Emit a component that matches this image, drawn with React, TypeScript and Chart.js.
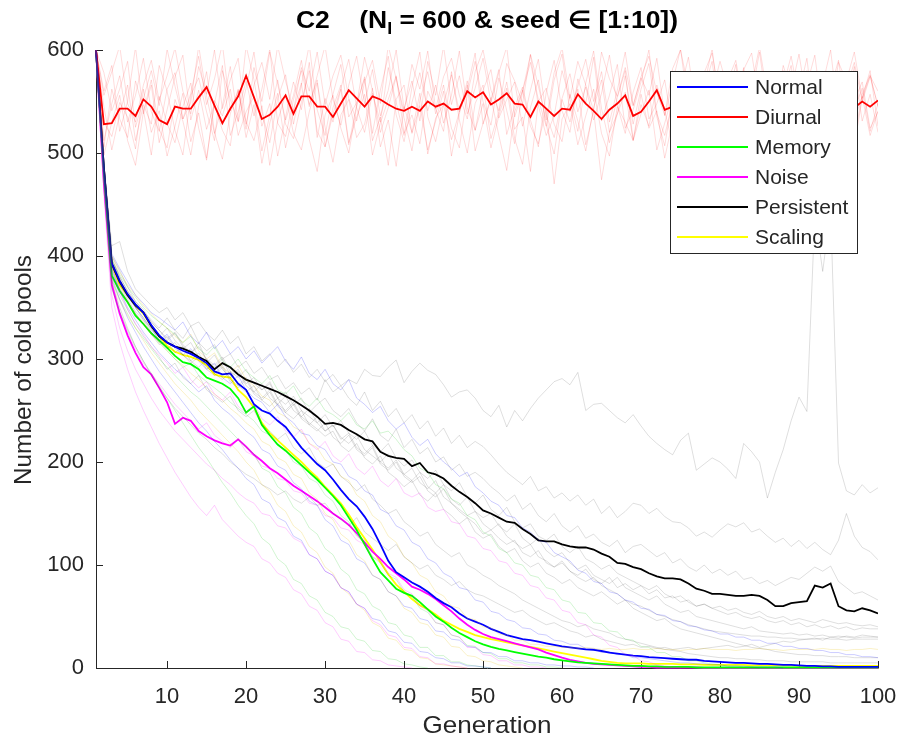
import React, { useEffect, useRef } from 'react';
import { Chart, registerables } from 'chart.js';

Chart.register(...registerables);

const FONT = '"Liberation Sans", Arial, Helvetica, sans-serif';
const INK = '#262626';

const xTicks = [10, 20, 30, 40, 50, 60, 70, 80, 90, 100];
const yTicks = [0, 100, 200, 300, 400, 500, 600];

const legendNames = ['Normal', 'Diurnal', 'Memory', 'Noise', 'Persistent', 'Scaling'];
const legendColors = ['#0000ff', '#ff0000', '#00ff00', '#ff00ff', '#000000', '#ffff00'];

// Mean number of cold pools per generation (generation 1..100)
const normalMean = [
  600, 485, 393, 376, 363, 353, 345, 333, 323, 316,
  312, 308, 305, 301, 296, 288, 285, 286, 276, 270,
  256, 250, 247, 240, 234, 224, 214, 206, 198, 192,
  183, 173, 164, 157, 147, 135, 120, 104, 93, 88,
  83, 79, 74, 68, 63, 59, 53, 48, 45, 42,
  38, 35, 32, 30, 28, 27, 25.5, 24, 22.5, 21,
  20, 19, 18, 17.5, 16.5, 15, 14, 13, 12, 11.5,
  10.5, 10, 9.5, 9, 8.5, 8, 8, 7, 6.5, 6,
  5.5, 5, 5, 4.5, 4, 4, 3.5, 3, 3, 2.5,
  2, 2, 1.5, 1.5, 1, 1, 1, 1, 1, 1,
];
const diurnalMean = [
  600, 528, 529, 543, 543, 536, 552, 545, 532, 528,
  545, 543, 543, 554, 564, 546, 529, 543, 555, 575,
  554, 533, 537, 545, 556, 538, 555, 555, 545, 545,
  535, 548, 561, 553, 545, 555, 552, 547, 543, 541,
  545, 541, 550, 545, 548, 542, 543, 560, 554, 559,
  547, 552, 558, 548, 547, 535, 550, 543, 536, 543,
  542, 557, 548, 541, 533, 542, 548, 556, 536, 540,
  550, 561, 542, 545, 552, 538, 547, 556, 541, 549,
  544, 553, 537, 546, 558, 543, 550, 539, 547, 555,
  541, 548, 552, 536, 545, 553, 544, 550, 545, 551,
];
const memoryMean = [
  600, 480, 381, 366, 355, 342, 334, 325, 318, 311,
  303, 297, 295, 290, 282, 279, 276, 271, 262, 248,
  254, 236, 226, 217, 211, 204, 197, 190, 183, 175,
  167, 158, 146, 134, 120, 106, 93, 85, 77, 73,
  70, 64, 57, 50, 45, 39, 34, 30, 26, 23,
  20.5, 18.5, 17, 15.5, 14, 12.5, 11, 10, 8.5, 7.5,
  6.5, 5.5, 5, 4.5, 4, 3.5, 3, 2.5, 2, 2,
  1.5, 1.5, 1, 1, 1, 1, 0.5, 0.5, 0.5, 0.5,
  0.5, 0.5, 0.5, 0.5, 0.5, 0.5, 0.5, 0.5, 0.5, 0.5,
  0.5, 0.5, 0.5, 0.5, 0.5, 0.5, 0.5, 0.5, 0.5, 0.5,
];
const noiseMean = [
  600, 470, 372, 344, 323, 306, 292, 285, 272, 258,
  237, 243, 240, 230, 225, 221, 218, 216, 222, 215,
  207, 201, 194, 189, 183, 177, 172, 167, 162, 156,
  150, 145, 139, 131, 122, 113, 106, 98, 92, 86,
  79, 76, 72, 67, 61, 55, 48, 42, 37, 33,
  30, 28, 26, 24, 22, 20, 18, 15, 12.5, 10,
  8, 6.5, 5, 4, 3.5, 3, 2.5, 2, 1.5, 1,
  1, 0.5, 0.5, 0.5, 0.5, 0.5, 0.5, 0, 0, 0,
  0, 0, 0, 0, 0, 0, 0, 0, 0, 0,
  0, 0, 0, 0, 0, 0, 0, 0, 0, 0,
];
const persistentMean = [
  600, 485, 392, 375, 362, 352, 345, 332, 322, 316,
  312, 310, 307, 302, 298, 290, 296, 292, 285, 280,
  277, 274, 271, 268, 264, 260, 255, 250, 244, 237,
  238, 236, 231, 227, 222, 220, 210, 206, 204, 203,
  196, 199, 190, 188, 184, 177, 171, 166, 160, 153,
  150, 146, 142, 141, 135, 130, 124, 123, 123, 120,
  118, 117, 117, 115, 111, 108, 102, 101, 98, 96,
  92, 89, 87, 87, 86, 82, 77, 75, 72, 72,
  71, 70, 70, 71, 70, 66, 60, 60, 63, 64,
  65, 80, 78, 82, 60, 56, 55, 58, 56, 53,
];
const scalingMean = [
  600, 485, 392, 372, 362, 352, 344, 332, 322, 313,
  307, 304, 302, 299, 294, 285, 283, 282, 270, 263,
  253, 238, 228, 221, 214, 207, 200, 192, 185, 176,
  168, 160, 149, 137, 126, 115, 103, 91, 81, 74,
  67, 61, 57, 52, 46, 42, 38, 35, 32, 30,
  28, 26.5, 25, 23.5, 22, 20.5, 19, 17.5, 16, 14.5,
  13, 11.5, 10, 8.5, 7, 6, 5, 4.5, 4.5, 4.5,
  4, 4, 4, 4, 3.5, 3.5, 3.5, 3, 3, 3,
  3, 3, 3, 2.5, 2.5, 2.5, 2.5, 2.5, 2.5, 2,
  2, 2, 2, 2, 2, 2, 2, 2, 2, 2,
];

// Individual seeds
const normalSeeds = [
  [600, 490, 402, 388, 375, 362, 354, 345, 340, 334, 328, 336, 322, 315, 326, 310, 318, 305, 312, 300,
    308, 296, 304, 312, 298, 290, 302, 286, 280, 290, 276, 270, 280, 262, 256, 248, 254, 240, 232, 238,
    224, 216, 222, 208, 200, 194, 186, 190, 176, 170, 162, 158, 148, 146, 136, 132, 124, 122, 112, 108,
    104, 95, 92, 84, 82, 74, 72, 66, 64, 58, 57, 52, 51, 46, 45, 41, 40, 37, 36, 33,
    33, 30, 30, 27, 27, 24, 24, 21, 21, 19, 19, 17, 17, 15, 15, 13, 13, 11, 11, 10],
  [600, 484, 392, 374, 360, 350, 340, 330, 318, 324, 312, 304, 310, 298, 290, 296, 282, 276, 284, 270,
    262, 258, 248, 256, 244, 238, 228, 226, 216, 212, 200, 198, 186, 182, 172, 168, 154, 150, 138, 134,
    122, 118, 106, 102, 92, 88, 78, 76, 66, 64, 55, 53, 47, 45, 39, 38, 33, 32, 27, 26,
    23, 23, 19, 19, 15, 16, 13, 13, 10, 10, 9, 8, 7, 6, 5, 5, 4, 4, 3, 3, 2, 2, 2, 1, 1, 1, 1, 0],
  [600, 480, 386, 366, 350, 338, 326, 316, 306, 298, 290, 284, 276, 268, 274, 260, 252, 246, 238, 230,
    224, 212, 208, 196, 192, 180, 174, 162, 158, 144, 138, 124, 120, 106, 102, 90, 86, 74, 70, 60,
    58, 48, 46, 36, 35, 28, 27, 21, 20, 15, 15, 11, 11, 7, 7, 5, 5, 3, 3, 2, 2, 1, 1, 0],
  [600, 476, 380, 358, 340, 326, 312, 300, 288, 278, 268, 258, 248, 238, 230, 220, 212, 202, 194, 184,
    178, 164, 160, 146, 142, 128, 124, 110, 106, 94, 90, 78, 74, 62, 58, 48, 46, 36, 34, 25,
    24, 16, 15, 10, 9, 5, 5, 2, 2, 1, 0],
];
const diurnalSeeds = [
  [600, 512, 548, 575, 530, 556, 592, 540, 521, 562, 578, 533, 549, 604, 555, 519, 546, 584, 530, 563,
    598, 540, 510, 553, 576, 528, 566, 605, 542, 517, 557, 586, 535, 549, 572, 519, 561, 594, 537, 511,
    549, 578, 541, 566, 529, 556, 599, 544, 522, 561, 581, 534, 552, 569, 526, 561, 591, 537, 515, 553,
    577, 540, 564, 532, 558, 595, 546, 519, 559, 583, 533, 548, 571, 524, 561, 593, 540, 513, 554, 579,
    536, 567, 530, 556, 598, 543, 520, 560, 585, 531, 550, 573, 527, 563, 590, 538, 514, 557, 576, 545],
  [600, 545, 503, 538, 566, 512, 547, 528, 585, 560, 522, 498, 556, 573, 540, 512, 580, 552, 531, 604,
    571, 526, 548, 497, 535, 569, 542, 588, 515, 553, 530, 562, 508, 547, 593, 561, 520, 544, 574, 534,
    502, 551, 579, 538, 566, 524, 505, 557, 589, 550, 527, 573, 541, 509, 560, 595, 546, 517, 536, 580,
    552, 521, 568, 599, 543, 510, 538, 575, 528, 562, 587, 535, 507, 554, 579, 548, 521, 566, 601, 540,
    515, 548, 583, 530, 562, 505, 545, 576, 538, 559, 592, 526, 551, 508, 569, 543, 584, 531, 557, 520],
  [600, 560, 585, 521, 550, 603, 538, 566, 510, 542, 574, 595, 532, 561, 523, 548, 585, 517, 540, 570,
    536, 562, 601, 529, 516, 552, 580, 547, 571, 506, 538, 563, 591, 544, 520, 558, 530, 583, 549, 517,
    564, 598, 535, 511, 547, 576, 540, 562, 597, 528, 552, 581, 518, 545, 564, 532, 506, 559, 590, 541,
    520, 572, 548, 593, 531, 556, 586, 524, 542, 569, 600, 538, 517, 550, 578, 545, 510, 563, 589, 534,
    553, 586, 523, 548, 569, 512, 544, 580, 557, 530, 566, 595, 536, 514, 552, 578, 542, 563, 521, 548],
  [600, 498, 530, 556, 512, 488, 540, 571, 523, 505, 552, 531, 498, 546, 579, 520, 494, 538, 562, 515,
    547, 490, 529, 558, 505, 541, 568, 513, 482, 537, 556, 524, 500, 545, 574, 512, 535, 488, 552, 566,
    519, 546, 503, 531, 560, 497, 538, 570, 522, 548, 505, 536, 563, 514, 489, 544, 571, 527, 499, 552,
    530, 562, 508, 541, 474, 520, 554, 580, 512, 538, 561, 503, 529, 557, 518, 491, 545, 569, 523, 508,
    547, 575, 514, 482, 536, 558, 527, 550, 505, 539, 566, 520, 496, 544, 571, 531, 507, 553, 580, 526],
  [600, 556, 579, 604, 548, 530, 566, 590, 551, 575, 602, 560, 538, 584, 557, 600, 543, 571, 592, 528,
    566, 588, 552, 604, 570, 541, 583, 560, 598, 547, 575, 595, 553, 531, 569, 590, 548, 604, 572, 540,
    586, 562, 599, 543, 574, 592, 556, 533, 579, 600, 561, 541, 587, 570, 548, 596, 565, 532, 578, 602,
    553, 589, 566, 541, 598, 572, 555, 583, 546, 574, 594, 558, 537, 582, 600, 563, 546, 578, 597, 552,
    571, 590, 544, 566, 603, 556, 538, 585, 561, 596, 549, 579, 560, 541, 588, 570, 598, 553, 575, 560],
  [600, 530, 516, 549, 535, 504, 562, 520, 541, 497, 526, 558, 511, 539, 495, 548, 522, 507, 561, 530,
    512, 546, 488, 531, 557, 519, 503, 540, 568, 525, 491, 537, 552, 515, 528, 563, 506, 532, 487, 545,
    520, 558, 499, 534, 547, 513, 540, 566, 502, 529, 554, 517, 483, 540, 561, 526, 509, 543, 470, 533,
    548, 508, 536, 562, 519, 497, 545, 530, 512, 557, 524, 541, 495, 531, 559, 514, 538, 505, 549, 527,
    510, 543, 566, 522, 490, 537, 553, 518, 544, 528, 502, 536, 559, 521, 547, 508, 532, 555, 517, 541],
  [600, 578, 541, 562, 589, 525, 553, 580, 546, 601, 565, 533, 558, 594, 547, 572, 606, 541, 560, 523,
    583, 550, 598, 567, 532, 556, 590, 545, 575, 604, 552, 527, 566, 594, 548, 581, 536, 561, 600, 543,
    570, 531, 589, 556, 604, 547, 575, 538, 563, 592, 549, 578, 603, 535, 560, 588, 552, 526, 571, 596,
    540, 565, 591, 550, 579, 530, 561, 598, 546, 573, 556, 592, 536, 569, 601, 544, 577, 533, 559, 589,
    562, 538, 581, 597, 548, 572, 530, 565, 594, 553, 580, 541, 567, 600, 535, 563, 588, 550, 574, 546],
  [600, 506, 562, 533, 515, 570, 542, 498, 555, 529, 510, 545, 568, 524, 493, 551, 536, 562, 517, 540,
    555, 502, 537, 571, 528, 514, 549, 580, 521, 506, 544, 566, 510, 535, 557, 498, 529, 552, 575, 519,
    537, 509, 560, 543, 521, 579, 532, 500, 548, 566, 514, 540, 569, 523, 535, 482, 550, 563, 528, 511,
    557, 531, 502, 544, 571, 520, 538, 559, 513, 547, 526, 566, 541, 508, 550, 574, 519, 535, 561, 530,
    496, 544, 567, 523, 539, 510, 553, 572, 531, 545, 518, 548, 528, 562, 537, 506, 551, 569, 524, 540],
];
const memorySeeds = [
  [600, 488, 396, 382, 370, 360, 350, 342, 336, 330, 324, 316, 322, 310, 304, 312, 298, 292, 300, 288,
    282, 276, 284, 270, 266, 274, 260, 254, 262, 250, 246, 240, 248, 236, 232, 240, 228, 230, 222, 212,
    206, 194, 190, 178, 174, 164, 160, 148, 144, 132, 128, 116, 112, 102, 100, 90, 88, 78, 76, 66,
    64, 54, 53, 44, 43, 36, 35, 28, 27, 21, 20, 15, 15, 11, 11, 7, 7, 5, 4, 3, 2, 2, 1, 1, 0],
  [600, 480, 384, 368, 356, 344, 334, 326, 316, 308, 300, 292, 296, 284, 278, 272, 266, 258, 252, 246,
    240, 230, 226, 216, 212, 200, 196, 184, 180, 168, 162, 148, 142, 128, 122, 108, 102, 90, 86, 74,
    70, 58, 54, 44, 42, 32, 30, 22, 21, 15, 14, 9, 9, 5, 5, 3, 3, 1, 1, 0],
  [600, 476, 376, 358, 344, 330, 320, 310, 300, 292, 284, 276, 268, 262, 254, 246, 238, 230, 222, 214,
    208, 194, 190, 176, 170, 156, 150, 136, 130, 116, 110, 96, 90, 76, 72, 60, 56, 44, 42, 32,
    30, 20, 20, 12, 12, 6, 6, 3, 2, 1, 0],
  [600, 470, 368, 346, 328, 312, 298, 286, 274, 262, 250, 238, 226, 214, 204, 192, 180, 170, 158, 148,
    140, 126, 120, 106, 100, 86, 82, 70, 66, 54, 50, 40, 38, 28, 26, 17, 16, 9, 8, 4, 3, 1, 0],
];
const noiseSeeds = [
  [600, 482, 390, 366, 348, 334, 324, 312, 304, 296, 286, 292, 280, 272, 278, 266, 260, 268, 254, 248,
    256, 242, 236, 244, 230, 224, 232, 218, 212, 220, 206, 200, 208, 194, 188, 196, 182, 176, 184, 170,
    166, 170, 156, 152, 154, 142, 140, 128, 126, 116, 114, 104, 102, 92, 90, 80, 78, 68, 66, 56,
    54, 44, 42, 32, 30, 22, 20, 13, 12, 7, 6, 3, 2, 1, 0],
  [600, 472, 374, 346, 326, 310, 296, 286, 276, 266, 256, 248, 240, 232, 238, 226, 220, 214, 222, 210,
    206, 196, 194, 184, 182, 172, 170, 160, 158, 148, 146, 136, 134, 124, 120, 108, 104, 92, 88, 76,
    72, 60, 56, 44, 42, 32, 30, 20, 20, 13, 12, 7, 7, 3, 3, 1, 1, 0],
  [600, 466, 362, 330, 308, 290, 276, 262, 250, 240, 230, 222, 214, 206, 198, 192, 184, 178, 170, 164,
    160, 150, 148, 138, 136, 126, 122, 110, 106, 94, 90, 78, 74, 62, 58, 46, 42, 32, 30, 20,
    19, 11, 10, 4, 4, 2, 1, 0],
  [600, 460, 350, 316, 290, 268, 250, 234, 218, 204, 190, 178, 166, 156, 148, 158, 144, 136, 128, 122,
    118, 106, 102, 92, 88, 76, 72, 60, 56, 44, 40, 28, 26, 16, 15, 8, 7, 3, 2, 1, 0],
];
const persistentSeeds = [
  [600, 490, 410, 414, 385, 368, 360, 352, 345, 350, 338, 345, 332, 336, 325, 318, 328, 315, 322, 305,
    312, 298, 305, 292, 300, 287, 295, 282, 290, 278, 285, 274, 280, 276, 290, 284, 283, 292, 299, 277,
    288, 296, 289, 285, 275, 263, 268, 270, 262, 250, 244, 255, 234, 250, 240, 252, 262, 270, 278, 281,
    275, 287, 250, 256, 257, 250, 243, 238, 246, 235, 225, 218, 212, 207, 221, 228, 192, 198, 204, 200,
    193, 184, 218, 210, 200, 165, 190, 212, 240, 263, 249, 440, 385, 445, 199, 172, 168, 178, 170, 175],
  [600, 484, 398, 380, 366, 354, 346, 338, 330, 340, 328, 320, 332, 316, 308, 314, 300, 305, 292, 298,
    286, 292, 280, 284, 271, 277, 266, 272, 260, 280, 268, 274, 262, 255, 268, 250, 259, 244, 252, 238,
    246, 232, 240, 225, 233, 218, 226, 214, 220, 215, 207, 198, 190, 184, 178, 186, 172, 176, 165, 170,
    162, 168, 158, 164, 150, 157, 146, 152, 160, 158, 150, 155, 147, 142, 141, 136, 128, 132, 127, 134,
    140, 137, 141, 132, 135, 128, 122, 126, 118, 124, 116, 122, 115, 110, 124, 150, 128, 117, 113, 105],
  [600, 488, 400, 386, 370, 356, 348, 336, 328, 318, 325, 312, 305, 316, 298, 292, 300, 284, 290, 276,
    282, 270, 276, 262, 268, 255, 262, 248, 256, 262, 250, 244, 252, 238, 230, 242, 226, 220, 232, 214,
    222, 208, 214, 200, 205, 192, 198, 186, 190, 184, 176, 170, 162, 168, 154, 160, 148, 142, 150, 138,
    132, 138, 126, 130, 122, 118, 124, 112, 118, 120, 114, 108, 112, 102, 106, 98, 94, 100, 92, 96,
    90, 94, 86, 88, 82, 85, 80, 84, 88, 86, 92, 98, 94, 99, 84, 78, 72, 74, 70, 66],
  [600, 482, 394, 376, 364, 350, 340, 328, 322, 330, 318, 310, 316, 302, 296, 304, 290, 282, 288, 274,
    268, 276, 262, 256, 264, 250, 244, 252, 238, 246, 234, 240, 228, 222, 230, 216, 210, 218, 204, 196,
    202, 190, 184, 192, 178, 172, 180, 166, 160, 168, 154, 148, 156, 142, 136, 140, 128, 124, 130, 118,
    112, 118, 106, 102, 96, 100, 92, 88, 84, 80, 76, 80, 72, 68, 70, 64, 60, 62, 58, 55,
    52, 54, 50, 48, 50, 46, 44, 46, 42, 44, 40, 42, 39, 41, 38, 40, 37, 39, 38, 38],
  [600, 486, 392, 372, 358, 346, 338, 326, 316, 322, 310, 304, 296, 302, 290, 284, 292, 278, 272, 280,
    266, 260, 268, 254, 248, 256, 242, 236, 244, 230, 236, 222, 228, 214, 208, 216, 200, 194, 202, 188,
    182, 190, 176, 170, 178, 164, 158, 166, 152, 146, 150, 138, 132, 140, 126, 120, 126, 114, 108, 112,
    102, 96, 100, 90, 86, 82, 88, 78, 74, 70, 66, 70, 62, 58, 54, 56, 50, 48, 46, 44,
    42, 40, 38, 40, 36, 35, 34, 33, 34, 32, 33, 31, 32, 30, 31, 30, 29, 30, 30, 30],
  [600, 484, 388, 368, 356, 344, 334, 324, 314, 318, 306, 312, 298, 292, 300, 286, 280, 288, 274, 268,
    274, 260, 254, 262, 248, 242, 250, 236, 230, 238, 224, 218, 226, 212, 206, 214, 198, 192, 200, 186,
    180, 186, 172, 166, 174, 160, 154, 148, 152, 140, 134, 140, 128, 122, 116, 120, 108, 104, 98, 102,
    94, 88, 84, 88, 80, 76, 72, 66, 62, 60, 56, 52, 50, 47, 45, 42, 40, 38, 36, 35,
    34, 33, 32, 31, 31, 30, 30, 29, 29, 28, 28, 28, 29, 28, 28, 27, 28, 28, 28, 28],
  [600, 490, 396, 378, 362, 350, 338, 330, 318, 310, 316, 304, 298, 306, 292, 286, 294, 280, 274, 282,
    268, 262, 270, 256, 250, 258, 244, 238, 232, 225, 230, 216, 210, 218, 204, 198, 206, 190, 184, 176,
    182, 168, 162, 170, 154, 148, 140, 146, 132, 126, 130, 118, 112, 116, 104, 98, 102, 92, 88, 82,
    86, 78, 74, 70, 74, 68, 62, 66, 58, 54, 50, 46, 48, 42, 38, 36, 34, 32, 30, 28,
    26, 24, 22, 20, 19, 18, 16, 15, 14, 13, 13, 12, 12, 11, 11, 11, 10, 10, 10, 10],
  [600, 480, 384, 362, 348, 334, 322, 312, 302, 290, 296, 282, 276, 284, 270, 264, 258, 264, 250, 244,
    250, 236, 230, 222, 228, 214, 208, 214, 200, 194, 198, 186, 180, 172, 178, 164, 158, 150, 154, 142,
    136, 128, 132, 120, 114, 108, 112, 100, 96, 90, 86, 80, 76, 72, 66, 62, 58, 54, 50, 46,
    44, 40, 42, 38, 36, 34, 30, 28, 26, 24, 22, 20, 18, 17, 16, 14, 13, 12, 11, 10,
    10, 9, 9, 8, 8, 7, 7, 7, 6, 6, 6, 6, 6, 5, 5, 5, 5, 5, 5, 5],
  [600, 486, 396, 380, 366, 356, 346, 336, 328, 320, 326, 314, 306, 312, 300, 294, 302, 288, 282, 290,
    276, 270, 278, 262, 256, 264, 250, 244, 238, 230, 236, 224, 218, 226, 212, 206, 200, 208, 194, 188,
    194, 180, 174, 182, 166, 160, 152, 146, 140, 130, 134, 126, 120, 124, 112, 108, 114, 102, 98, 104,
    94, 90, 96, 86, 82, 88, 78, 82, 76, 80, 72, 76, 68, 70, 64, 66, 60, 62, 58, 60,
    56, 58, 54, 52, 55, 50, 48, 50, 46, 48, 46, 44, 47, 45, 43, 44, 42, 41, 42, 40],
  [600, 476, 376, 350, 330, 312, 298, 284, 272, 262, 252, 244, 236, 228, 222, 214, 208, 200, 194, 188,
    184, 178, 174, 168, 172, 164, 160, 166, 158, 160, 150, 144, 138, 146, 132, 126, 120, 114, 120, 108,
    102, 96, 100, 90, 86, 80, 84, 76, 72, 70, 66, 62, 58, 54, 56, 50, 46, 42, 44, 40,
    36, 34, 30, 32, 28, 26, 24, 22, 23, 20, 21, 19, 20, 18, 19, 20, 18, 19, 20, 21,
    22, 20, 21, 23, 20, 22, 24, 26, 25, 27, 28, 29, 27, 30, 29, 31, 30, 32, 31, 30],
];
const scalingSeeds = [
  [600, 490, 400, 384, 372, 362, 352, 344, 336, 330, 322, 316, 324, 308, 300, 306, 292, 286, 294, 280,
    274, 264, 260, 248, 244, 234, 230, 218, 214, 202, 198, 186, 182, 168, 162, 148, 142, 128, 122, 108,
    102, 90, 86, 74, 70, 60, 58, 48, 47, 40, 39, 33, 32, 27, 27, 23, 23, 21, 21, 20,
    20, 19, 20, 19, 18, 19, 18, 18, 19, 18, 18, 19, 18, 18, 17, 18, 18, 19, 18, 18,
    18, 17, 18, 18, 19, 18, 18, 17, 18, 18, 18, 18, 19, 18, 18, 17, 18, 18, 19, 18],
  [600, 482, 388, 370, 356, 344, 336, 324, 316, 308, 300, 294, 286, 280, 272, 266, 260, 252, 246, 238,
    232, 220, 216, 204, 200, 188, 184, 170, 164, 150, 144, 130, 124, 110, 104, 90, 86, 74, 70, 58,
    54, 44, 42, 32, 30, 21, 20, 12, 11, 7, 6, 3, 2, 1, 0],
  [600, 476, 378, 356, 342, 330, 318, 306, 296, 286, 276, 268, 260, 250, 242, 234, 226, 218, 210, 200,
    192, 178, 172, 158, 152, 138, 132, 118, 112, 98, 92, 78, 72, 62, 56, 44, 40, 29, 27, 18,
    17, 10, 9, 4, 3, 2, 1, 0],
];

const CLIP = { left: 4, top: 0, right: 0, bottom: 4 };

const toPoints = (vals: number[]) => vals.map((y, i) => ({ x: i + 1, y }));

const faintLine = (vals: number[], rgb: string, alpha: number) => ({
  data: toPoints(vals),
  borderColor: `rgba(${rgb},${alpha})`,
  borderWidth: 1,
  pointRadius: 0,
  tension: 0,
  clip: CLIP,
});

const meanLine = (vals: number[], color: string, label: string) => ({
  label,
  data: toPoints(vals),
  borderColor: color,
  borderWidth: 1.8,
  pointRadius: 0,
  tension: 0,
  clip: CLIP,
});

function buildDatasets() {
  const sets: any[] = [];
  normalSeeds.forEach((s) => sets.push(faintLine(s, '0,0,255', 0.2)));
  diurnalSeeds.forEach((s) => sets.push(faintLine(s, '255,0,0', 0.14)));
  memorySeeds.forEach((s) => sets.push(faintLine(s, '0,200,0', 0.18)));
  noiseSeeds.forEach((s) => sets.push(faintLine(s, '255,0,255', 0.2)));
  persistentSeeds.forEach((s) => sets.push(faintLine(s, '0,0,0', 0.13)));
  scalingSeeds.forEach((s) => sets.push(faintLine(s, '230,190,0', 0.22)));
  sets.push(meanLine(normalMean, legendColors[0], legendNames[0]));
  sets.push(meanLine(diurnalMean, legendColors[1], legendNames[1]));
  sets.push(meanLine(memoryMean, legendColors[2], legendNames[2]));
  sets.push(meanLine(noiseMean, legendColors[3], legendNames[3]));
  sets.push(meanLine(persistentMean, legendColors[4], legendNames[4]));
  sets.push(meanLine(scalingMean, legendColors[5], legendNames[5]));
  return sets;
}

// Text drawn with a fixed target width (the figure's fonts run a little wide)
function fillWide(ctx: CanvasRenderingContext2D, text: string, x: number, y: number, width: number) {
  const w = ctx.measureText(text).width;
  ctx.save();
  ctx.translate(x, y);
  ctx.scale(width / w, 1);
  ctx.fillText(text, 0, 0);
  ctx.restore();
}

// Axis lines with inward ticks, title, axis labels and the boxed legend
const decorations = {
  id: 'decorations',
  beforeDatasetsDraw(chart: any) {
    const { ctx, chartArea: a, scales } = chart;
    ctx.save();
    ctx.strokeStyle = INK;
    ctx.lineWidth = 1;
    ctx.beginPath();
    ctx.moveTo(a.left + 0.5, a.top);
    ctx.lineTo(a.left + 0.5, a.bottom + 0.5);
    ctx.lineTo(a.right + 0.5, a.bottom + 0.5);
    for (const v of xTicks) {
      const px = Math.round(scales.x.getPixelForValue(v)) + 0.5;
      ctx.moveTo(px, a.bottom);
      ctx.lineTo(px, a.bottom - 7);
    }
    for (const v of yTicks) {
      const py = Math.round(scales.y.getPixelForValue(v)) + 0.5;
      ctx.moveTo(a.left, py);
      ctx.lineTo(a.left + 7, py);
    }
    ctx.stroke();
    ctx.restore();
  },
  afterDraw(chart: any) {
    const { ctx, chartArea: a } = chart;
    const cx = (a.left + a.right) / 2;
    ctx.save();

    // title with subscript
    const p1 = 'C2    (N';
    const p2 = 'I';
    const p3 = ' = 600 & seed \u2208 [1:10])';
    const big = `bold 24px ${FONT}`;
    const small = `bold 16px ${FONT}`;
    ctx.fillStyle = '#000';
    ctx.textBaseline = 'alphabetic';
    ctx.textAlign = 'left';
    ctx.font = big;
    const w1 = ctx.measureText(p1).width;
    const w3 = ctx.measureText(p3).width;
    ctx.font = small;
    const w2 = ctx.measureText(p2).width;
    const total = w1 + w2 + w3;
    const k = 382 / total;
    ctx.save();
    ctx.translate(cx - 191, 28);
    ctx.scale(k, 1);
    ctx.font = big;
    ctx.fillText(p1, 0, 0);
    ctx.font = small;
    ctx.fillText(p2, w1, 6);
    ctx.font = big;
    ctx.fillText(p3, w1 + w2, 0);
    ctx.restore();

    // axis labels
    ctx.fillStyle = INK;
    ctx.font = `24px ${FONT}`;
    ctx.textAlign = 'left';
    fillWide(ctx, 'Generation', cx - 64.5, 733, 129);
    ctx.save();
    ctx.translate(31, 485);
    ctx.rotate(-Math.PI / 2);
    fillWide(ctx, 'Number of cold pools', 0, 0, 230);
    ctx.restore();

    // legend
    const lx = 670.5, ly = 71.5, lw = 187, lh = 182;
    ctx.fillStyle = '#fff';
    ctx.fillRect(lx, ly, lw, lh);
    ctx.strokeStyle = INK;
    ctx.lineWidth = 1;
    ctx.strokeRect(lx, ly, lw, lh);
    ctx.font = `21px ${FONT}`;
    ctx.textAlign = 'left';
    ctx.textBaseline = 'middle';
    legendNames.forEach((name, i) => {
      const y = 87 + i * 30;
      ctx.strokeStyle = legendColors[i];
      ctx.lineWidth = 1.8;
      ctx.beginPath();
      ctx.moveTo(677, y);
      ctx.lineTo(748, y);
      ctx.stroke();
      ctx.fillStyle = INK;
      ctx.fillText(name, 755, y + 1);
    });
    ctx.restore();
  },
};

export default function App() {
  const ref = useRef<HTMLCanvasElement>(null);

  useEffect(() => {
    const canvas = ref.current;
    if (!canvas) return;
    const chart = new Chart(canvas, {
      type: 'line',
      data: { datasets: buildDatasets() },
      options: {
        responsive: false,
        animation: false,
        events: [],
        layout: { padding: { left: 0, right: 19, top: 50, bottom: 0 } },
        plugins: {
          legend: { display: false },
          tooltip: { enabled: false },
          title: { display: false },
        },
        scales: {
          x: {
            type: 'linear',
            min: 1,
            max: 100,
            afterBuildTicks: (s: any) => {
              s.ticks = xTicks.map((v) => ({ value: v }));
            },
            afterFit: (s: any) => {
              s.height = 76;
              s.paddingLeft = 0;
              s.paddingRight = 0;
            },
            grid: { display: false, drawTicks: false },
            border: { display: false },
            ticks: {
              autoSkip: false,
              maxRotation: 0,
              padding: 16,
              color: INK,
              font: { family: FONT, size: 22 },
            },
          },
          y: {
            type: 'linear',
            min: 0,
            max: 600,
            afterBuildTicks: (s: any) => {
              s.ticks = yTicks.map((v) => ({ value: v }));
            },
            afterFit: (s: any) => {
              s.width = 96;
              s.paddingTop = 0;
              s.paddingBottom = 0;
            },
            grid: { display: false, drawTicks: false },
            border: { display: false },
            ticks: {
              padding: 12,
              color: INK,
              font: { family: FONT, size: 22 },
            },
          },
        },
      },
      plugins: [decorations],
    } as any);
    return () => chart.destroy();
  }, []);

  return (
    <div style={{ position: 'absolute', left: 0, top: 0, width: 897, height: 744, background: '#fff' }}>
      <canvas ref={ref} width={897} height={744} style={{ display: 'block', width: 897, height: 744 }} />
    </div>
  );
}
